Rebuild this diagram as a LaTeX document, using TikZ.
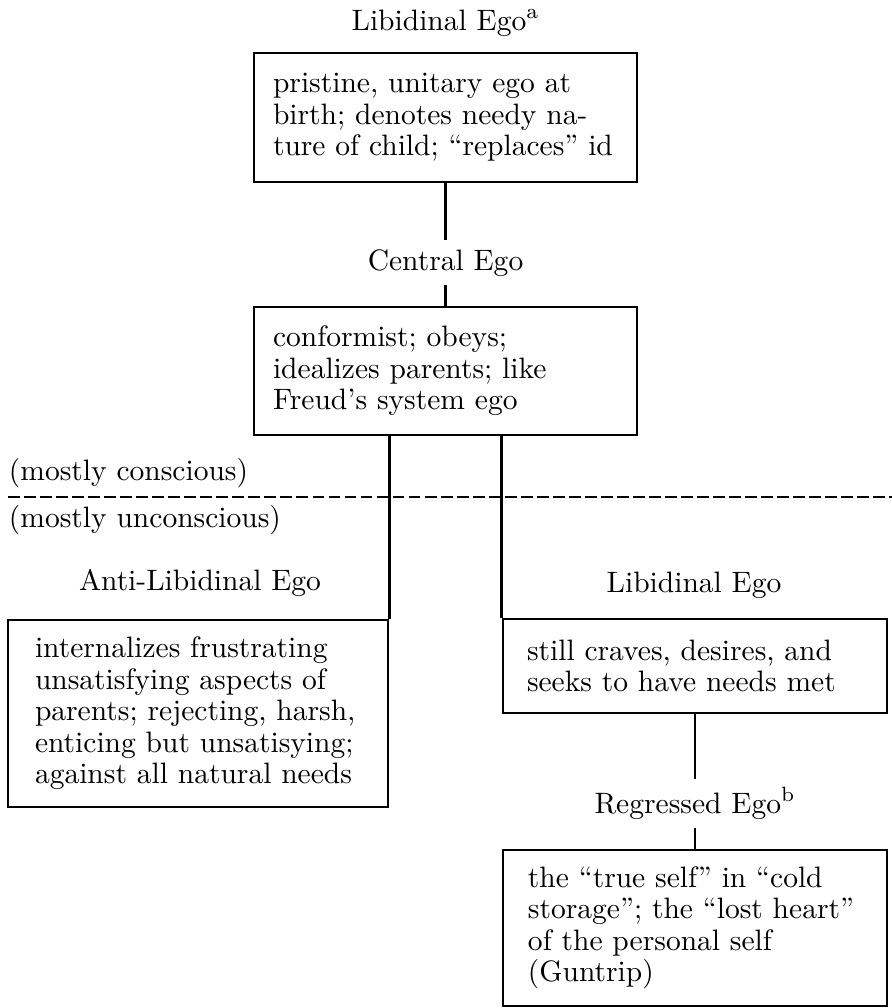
\documentclass[tikz,border=0pt]{standalone}
\tikzset{egobox/.style={draw,line width=1pt,align=left,inner ysep=0pt,font=\fontsize{10.5}{11.2}\selectfont}}
\tikzset{egolabel/.style={inner sep=3pt,font=\fontsize{10.5}{11.2}\selectfont}}
\tikzset{egoline/.style={line width=1pt}}
\tikzset{divider/.style={line width=1pt,dash pattern=on 4.2pt off 1.5pt}}

\begin{document}
\begin{tikzpicture}
	\useasboundingbox (0,0) rectangle (11.15,-12.6);

	\node[egolabel,anchor=base] (libtitle) at (5.569,-0.375) {Libidinal Ego\textsuperscript{a}};
	\node[egobox,text width=4.3125cm,inner xsep=0.2375cm,minimum height=1.6125cm] (pristine) at (5.569,-1.469)
		{pristine, unitary ego at\\ birth; denotes needy na-\\ ture of child; ``replaces'' id};

	\node[egolabel,anchor=base] (central) at (5.569,-3.375) {Central Ego};
	\node[egobox,text width=4.3125cm,inner xsep=0.2375cm,minimum height=1.6cm] (conformist) at (5.569,-4.6375)
		{conformist; obeys;\\ idealizes parents; like\\ Freud's system ego};

	% conscious / unconscious border
	\node[egolabel,anchor=base west] (conscious) at (0,-6.0) {(mostly conscious)};
	\draw[divider] (0.1,-6.2125) -- (11.15,-6.2125);
	\node[egolabel,anchor=base west] (unconscious) at (0,-6.5875) {(mostly unconscious)};

	\node[egolabel,anchor=base] (antititle) at (2.5,-7.375) {Anti-Libidinal Ego};
	\node[egobox,text width=4.075cm,inner xsep=0.3375cm,minimum height=2.3375cm] (antilib) at (2.475,-8.919)
		{internalizes frustrating\\ unsatisfying aspects of\\ parents; rejecting, harsh,\\ enticing but unsatisying;\\ against all natural needs};

	\node[egolabel,anchor=base] (libtitletwo) at (8.675,-7.4) {Libidinal Ego};
	\node[egobox,text width=4.2cm,inner xsep=0.3cm,minimum height=1.175cm] (libido) at (8.6875,-8.325)
		{still craves, desires, and\\ seeks to have needs met};

	\node[egolabel,anchor=base] (regressed) at (8.6875,-10.1625) {Regressed Ego\textsuperscript{b}};
	\node[egobox,text width=4.175cm,inner xsep=0.3125cm,minimum height=1.95cm] (trueself) at (8.6875,-11.6)
		{the ``true self'' in ``cold\\ storage''; the ``lost heart''\\ of the personal self\\ (Guntrip)};

	\draw[egoline] (pristine.south) -- (central.north);
	\draw[egoline] (central.south) -- (conformist.north);
	\draw[egoline] (conformist.south -| antilib.east) -- (antilib.north east);
	\draw[egoline] (conformist.south -| libido.west) -- (libido.north west);
	\draw[egoline] (libido.south) -- (regressed.north);
	\draw[egoline] (regressed.south) -- (trueself.north);
\end{tikzpicture}
\end{document}
